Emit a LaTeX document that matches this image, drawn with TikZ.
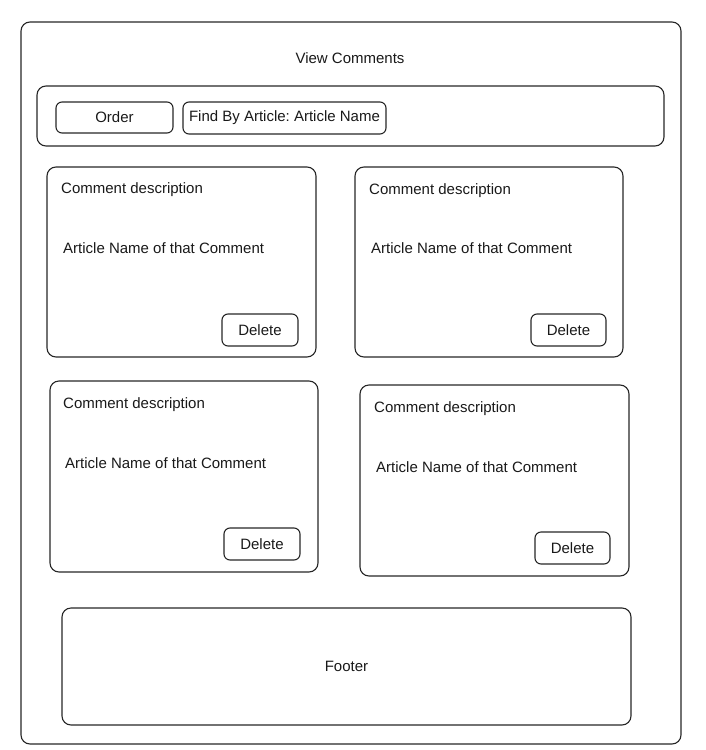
\documentclass[tikz,border=0pt]{standalone}
\usepackage{fontspec}
\setmainfont{Liberation Sans}
\frenchspacing
\begin{document}
\begin{tikzpicture}[x=1pt,y=-1pt,
  frame/.style={draw=black!85, line width=1.1pt, rounded corners=9pt, inner sep=0pt, outer sep=0pt, anchor=north west},
  btn/.style={draw=black!85, line width=1.1pt, rounded corners=6pt, inner sep=0pt, outer sep=0pt, anchor=north west},
  lbl/.style={font=\fontsize{15}{17}\selectfont, inner sep=0pt, text=black!90},
  lblw/.style={lbl, anchor=west}]
\useasboundingbox (0,0) rectangle (705,750);
% outer frame
\node[frame, minimum width=660pt, minimum height=722pt] (page) at (21,22) {};
\node[lbl] (title) at (350,58) {View Comments};
% filter bar
\node[frame, minimum width=627pt, minimum height=60pt] (bar) at (37,86) {};
\node[btn, minimum width=117pt, minimum height=31pt] (order) at (56,102) {};
\node[lbl] (ordert) at (order.center) {Order};
\node[btn, minimum width=203pt, minimum height=32pt] (find) at (183,102) {};
\node[lbl] (findt) at (find.center) {Find By Article: Article Name};
% card 1
\node[frame, minimum width=269pt, minimum height=190pt] (c1) at (47,167) {};
\node[lblw] (c1d) at (61,190) {Comment description};
\node[lblw] (c1a) at (63,248) {Article Name of that Comment};
\node[btn, minimum width=76pt, minimum height=32pt] (c1b) at (222,314) {};
\node[lbl] (c1bt) at (c1b.center) {Delete};
% card 2
\node[frame, minimum width=268pt, minimum height=190pt] (c2) at (355,167) {};
\node[lblw] (c2d) at (369,191) {Comment description};
\node[lblw] (c2a) at (371,248) {Article Name of that Comment};
\node[btn, minimum width=75pt, minimum height=32pt] (c2b) at (531,314) {};
\node[lbl] (c2bt) at (c2b.center) {Delete};
% card 3
\node[frame, minimum width=268pt, minimum height=191pt] (c3) at (50,381) {};
\node[lblw] (c3d) at (63,405) {Comment description};
\node[lblw] (c3a) at (65,463) {Article Name of that Comment};
\node[btn, minimum width=76pt, minimum height=32pt] (c3b) at (224,528) {};
\node[lbl] (c3bt) at (c3b.center) {Delete};
% card 4
\node[frame, minimum width=269pt, minimum height=191pt] (c4) at (360,385) {};
\node[lblw] (c4d) at (374,409) {Comment description};
\node[lblw] (c4a) at (376,467) {Article Name of that Comment};
\node[btn, minimum width=75pt, minimum height=32pt] (c4b) at (535,532) {};
\node[lbl] (c4bt) at (c4b.center) {Delete};
% footer
\node[frame, minimum width=569pt, minimum height=117pt] (footer) at (62,608) {};
\node[lbl] (footert) at (footer.center) {Footer};
\end{tikzpicture}
\end{document}
